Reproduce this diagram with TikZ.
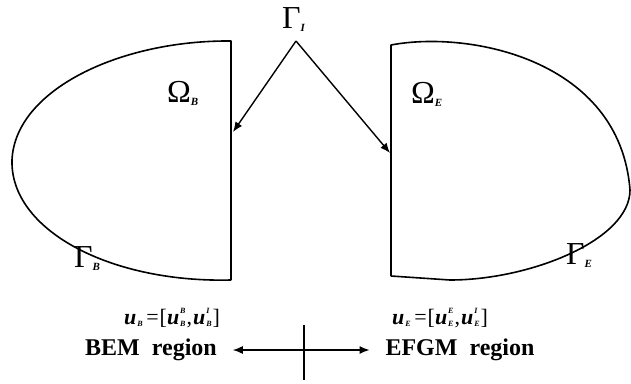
\documentclass[tikz,border=0pt]{standalone}
\usepackage{fontspec}
\setmainfont{Liberation Serif}
\usetikzlibrary{arrows.meta}
\newcommand\grk[3]{{\fontsize{#3}{#3}\selectfont #1}\raisebox{-3pt}{\fontsize{11}{11}\selectfont\itshape\bfseries #2}}
\newcommand\uu[2]{\textit{\textbf{u}}\kern1pt\rlap{\raisebox{1.05ex}{\fontsize{8}{8}\selectfont\itshape\bfseries #2}}\raisebox{-0.25ex}{\fontsize{8}{8}\selectfont\itshape\bfseries #1}}
\tikzset{
  bnd/.style={line width=1.6pt, line join=round},
  arr/.style={line width=1.4pt, -{Latex[length=10pt,width=8pt]}},
  dbl/.style={line width=1.4pt, {Latex[length=10pt,width=8pt]}-{Latex[length=10pt,width=8pt]}},
  lbl/.style={inner sep=0pt},
  reg/.style={inner sep=0pt, outer xsep=16pt, font=\fontsize{24}{24}\selectfont\bfseries},
  eq/.style={inner sep=0pt, font=\fontsize{22}{22}\selectfont}
}
\begin{document}
\begin{tikzpicture}[x=1pt,y=-1pt]
\useasboundingbox (0,0) rectangle (631,383);
% left region (BEM)
\draw[bnd] (231,280) -- (231,41) .. controls (120,40) and (15,90) .. (12,160)
  .. controls (10,230) and (110,283) .. (231,280);
% right region (EFGM)
\draw[bnd] (391,276) -- (391,45) .. controls (470,30) and (620,60) .. (630,190)
  .. controls (630,240) and (530,280) .. (450,280) -- (391,276);
% labels
\node[lbl, anchor=south west] (gi) at (282,32) {\grk{Γ}{I}{32}};
\coordinate (apex) at (296,41);
\coordinate (tipB) at (233,132);
\coordinate (tipE) at (390,153);
\draw[arr] (apex) -- (tipB);
\draw[arr] (apex) -- (tipE);
\node[lbl, anchor=south west] (ob) at (167,106) {\grk{Ω}{B}{32}};
\node[lbl, anchor=south west] (oe) at (411,107) {\grk{Ω}{E}{32}};
\node[lbl, anchor=south west] (gb) at (74,271) {\grk{Γ}{B}{32}};
\node[lbl, anchor=south west] (ge) at (566,268) {\grk{Γ}{E}{32}};
% bottom
\node[eq] (ub) at (172,318) {\uu{B}{}\,=\kern1pt[\uu{B}{B}\kern1pt,\kern1pt\uu{B}{I}\kern1pt]};
\node[eq] (ue) at (440,318) {\uu{E}{}\,=\kern1pt[\uu{E}{E}\kern1pt,\kern1pt\uu{E}{I}\kern1pt]};
\node[reg] (bem) at (151,350) {BEM\ \ region};
\node[reg] (efgm) at (460,350) {EFGM\ \ region};
\coordinate (ctop) at (304,325);
\coordinate (cbot) at (304,380);
\draw[line width=1.4pt] (ctop) -- (cbot);
\draw[dbl] (bem) -- (efgm);
\end{tikzpicture}
\end{document}
